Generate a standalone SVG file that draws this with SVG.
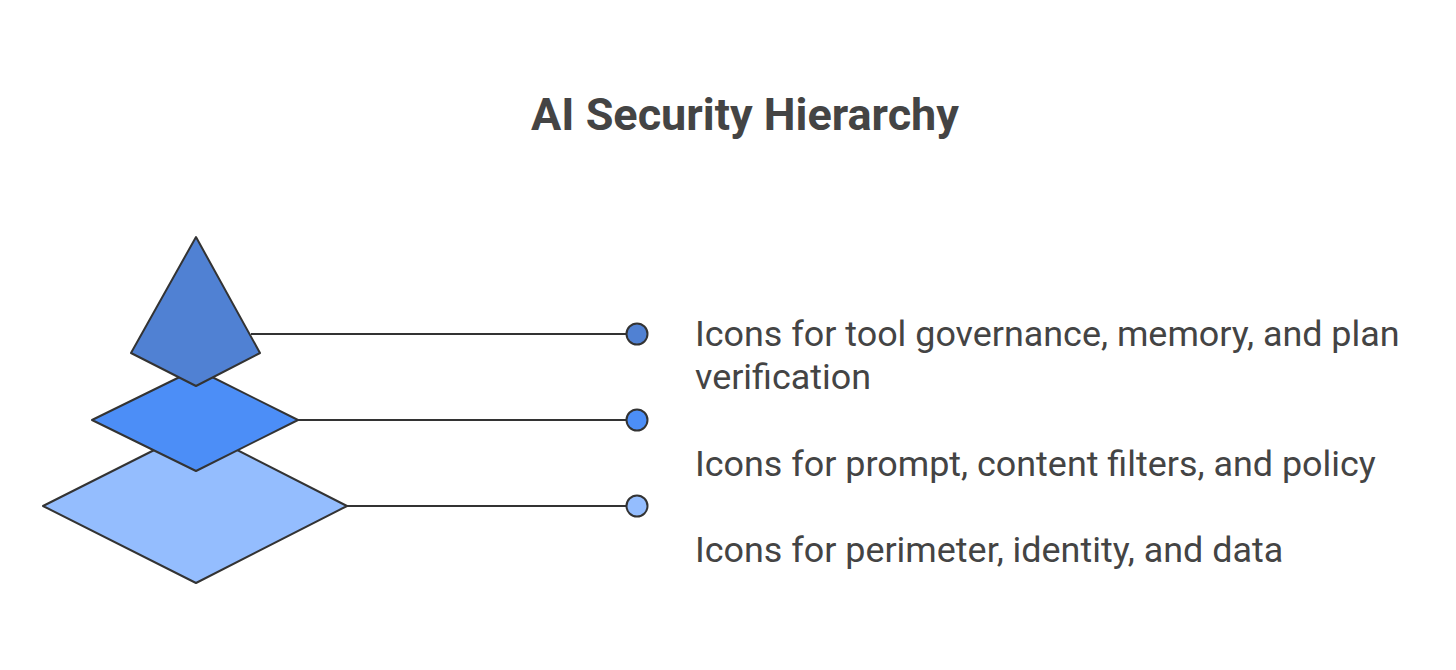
<svg xmlns="http://www.w3.org/2000/svg" width="1456" height="670" viewBox="0 0 1456 670">
<style>
.shape{stroke:#333333;stroke-width:2;stroke-linejoin:round}
.conn{stroke:#333333;stroke-width:2;fill:none}
.dot{stroke:#333333;stroke-width:2}
.title{font-family:Roboto,"Liberation Sans",sans-serif;font-weight:700;font-size:45px;fill:#444444}
.label{font-family:Roboto,"Liberation Sans",sans-serif;font-size:35.9px;fill:#444444}
</style>
<rect width="1456" height="670" fill="#ffffff"/>
<text class="title" x="745" y="130" text-anchor="middle">AI Security Hierarchy</text>
<g id="connectors">
<line class="conn" x1="251" y1="334" x2="627" y2="334"/>
<line class="conn" x1="297" y1="420" x2="627" y2="420"/>
<line class="conn" x1="347" y1="506" x2="627" y2="506"/>
</g>
<g id="level-bottom">
<polygon class="shape" fill="#94BDFE" points="196,429 347,506 196,583 43,506"/>
<circle class="dot" cx="637" cy="506" r="10.5" fill="#94BDFE"/>
<text class="label" x="695" y="562">Icons for perimeter, identity, and data</text>
</g>
<g id="level-middle">
<polygon class="shape" fill="#4C8EF7" points="196,369 298,420 196,471 92,420"/>
<circle class="dot" cx="637" cy="420" r="10.5" fill="#4C8EF7"/>
<text class="label" x="695" y="476">Icons for prompt, content filters, and policy</text>
</g>
<g id="level-top">
<polygon class="shape" fill="#5081D3" points="196,237 260,353 196,386 131,353"/>
<circle class="dot" cx="637" cy="334" r="10.5" fill="#5081D3"/>
<text class="label" x="695" y="346">Icons for tool governance, memory, and plan</text>
<text class="label" x="695" y="389">verification</text>
</g>
</svg>
